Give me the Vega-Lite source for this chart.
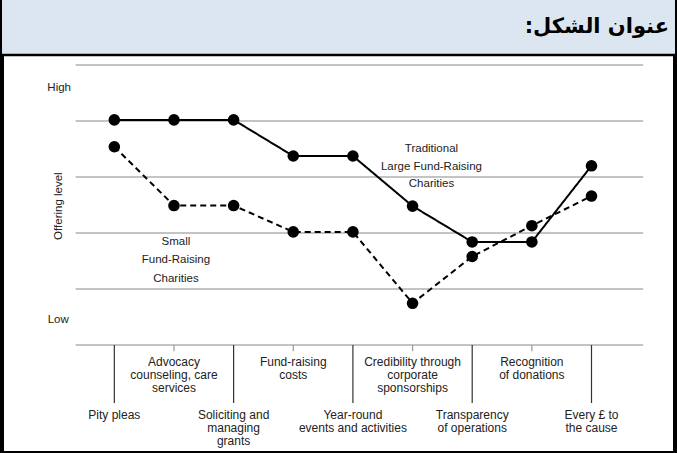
{
  "$schema": "https://vega.github.io/schema/vega-lite/v6.json",
  "autosize": {"type": "fit", "contains": "padding"},
  "width": 677,
  "height": 453,
  "padding": 0,
  "background": "white",
  "config": {"view": {"stroke": "black", "strokeWidth": 4}},
  "data": {"values": [{}]},
  "datasets": {
    "factors": [
      {"i": 1, "factor": "Pity pleas", "tier": "lower"},
      {"i": 2, "factor": "Advocacy\ncounseling, care\nservices", "tier": "upper"},
      {"i": 3, "factor": "Soliciting and\nmanaging\ngrants", "tier": "lower"},
      {"i": 4, "factor": "Fund-raising\ncosts", "tier": "upper"},
      {"i": 5, "factor": "Year-round\nevents and activities", "tier": "lower"},
      {"i": 6, "factor": "Credibility through\ncorporate\nsponsorships", "tier": "upper"},
      {"i": 7, "factor": "Transparency\nof operations", "tier": "lower"},
      {"i": 8, "factor": "Recognition\nof donations", "tier": "upper"},
      {"i": 9, "factor": "Every £ to\nthe cause", "tier": "lower"}
    ],
    "profiles": [
      {"i": 1, "series": "Traditional Large Fund-Raising Charities", "level": 4.02},
      {"i": 2, "series": "Traditional Large Fund-Raising Charities", "level": 4.02},
      {"i": 3, "series": "Traditional Large Fund-Raising Charities", "level": 4.02},
      {"i": 4, "series": "Traditional Large Fund-Raising Charities", "level": 3.375},
      {"i": 5, "series": "Traditional Large Fund-Raising Charities", "level": 3.375},
      {"i": 6, "series": "Traditional Large Fund-Raising Charities", "level": 2.48},
      {"i": 7, "series": "Traditional Large Fund-Raising Charities", "level": 1.84},
      {"i": 8, "series": "Traditional Large Fund-Raising Charities", "level": 1.84},
      {"i": 9, "series": "Traditional Large Fund-Raising Charities", "level": 3.2},
      {"i": 1, "series": "Small Fund-Raising Charities", "level": 3.54},
      {"i": 2, "series": "Small Fund-Raising Charities", "level": 2.49},
      {"i": 3, "series": "Small Fund-Raising Charities", "level": 2.49},
      {"i": 4, "series": "Small Fund-Raising Charities", "level": 2.02},
      {"i": 5, "series": "Small Fund-Raising Charities", "level": 2.02},
      {"i": 6, "series": "Small Fund-Raising Charities", "level": 0.745},
      {"i": 7, "series": "Small Fund-Raising Charities", "level": 1.58},
      {"i": 8, "series": "Small Fund-Raising Charities", "level": 2.13},
      {"i": 9, "series": "Small Fund-Raising Charities", "level": 2.66}
    ],
    "grid": [{"level": 0}, {"level": 1}, {"level": 2}, {"level": 3}, {"level": 4}, {"level": 5}]
  },
  "layer": [
    {
      "mark": {"type": "rect", "fill": "#dce6f1"},
      "encoding": {
        "x": {"datum": -0.8833, "type": "quantitative", "scale": {"type": "linear", "domain": [-0.8833, 10.4], "nice": false, "zero": false}, "axis": null},
        "x2": {"datum": 10.4},
        "y": {"datum": 5.18, "type": "quantitative", "scale": {"type": "linear", "domain": [-1.929, 6.161], "nice": false, "zero": false}, "axis": null},
        "y2": {"datum": 6.161}
      }
    },
    {
      "mark": {"type": "rule", "color": "black", "strokeWidth": 2.5},
      "encoding": {
        "x": {"datum": -0.8833, "type": "quantitative", "scale": {"type": "linear", "domain": [-0.8833, 10.4], "nice": false, "zero": false}, "axis": null},
        "x2": {"datum": 10.4},
        "y": {"datum": 5.18, "type": "quantitative", "scale": {"type": "linear", "domain": [-1.929, 6.161], "nice": false, "zero": false}, "axis": null}
      }
    },
    {
      "mark": {"type": "text", "text": "عنوان الشكل:\u200f", "align": "right", "baseline": "middle", "font": "DejaVu Sans", "fontSize": 21, "fontWeight": "bold", "color": "black"},
      "encoding": {
        "x": {"datum": 10.3, "type": "quantitative", "scale": {"type": "linear", "domain": [-0.8833, 10.4], "nice": false, "zero": false}, "axis": null},
        "y": {"datum": 5.68, "type": "quantitative", "scale": {"type": "linear", "domain": [-1.929, 6.161], "nice": false, "zero": false}, "axis": null}
      }
    },
    {
      "data": {"name": "grid"},
      "mark": {"type": "rule", "color": "#b0b0b0", "strokeWidth": 1.5},
      "encoding": {
        "x": {"datum": 0.35, "type": "quantitative", "scale": {"type": "linear", "domain": [-0.8833, 10.4], "nice": false, "zero": false}, "axis": null},
        "x2": {"datum": 9.867},
        "y": {"field": "level", "type": "quantitative", "scale": {"type": "linear", "domain": [-1.929, 6.161], "nice": false, "zero": false}, "axis": null}
      }
    },
    {
      "data": {"name": "factors"},
      "transform": [{"filter": "datum.tier === 'lower'"}],
      "mark": {"type": "rule", "color": "#333333", "strokeWidth": 1.2},
      "encoding": {
        "x": {"field": "i", "type": "quantitative", "scale": {"type": "linear", "domain": [-0.8833, 10.4], "nice": false, "zero": false}, "axis": null},
        "y": {"datum": 0, "type": "quantitative", "scale": {"type": "linear", "domain": [-1.929, 6.161], "nice": false, "zero": false}, "axis": null},
        "y2": {"datum": -1.036}
      }
    },
    {
      "data": {"name": "factors"},
      "transform": [{"filter": "datum.tier === 'upper'"}],
      "mark": {"type": "rule", "color": "#999999", "strokeWidth": 1.2},
      "encoding": {
        "x": {"field": "i", "type": "quantitative", "scale": {"type": "linear", "domain": [-0.8833, 10.4], "nice": false, "zero": false}, "axis": null},
        "y": {"datum": 0, "type": "quantitative", "scale": {"type": "linear", "domain": [-1.929, 6.161], "nice": false, "zero": false}, "axis": null},
        "y2": {"datum": -0.11}
      }
    },
    {
      "data": {"name": "factors"},
      "transform": [{"filter": "datum.tier === 'upper'"}],
      "mark": {"type": "text", "align": "center", "baseline": "top", "lineBreak": "\n", "lineHeight": 13, "font": "Liberation Sans", "fontSize": 12, "color": "#222222"},
      "encoding": {
        "x": {"field": "i", "type": "quantitative", "scale": {"type": "linear", "domain": [-0.8833, 10.4], "nice": false, "zero": false}, "axis": null},
        "y": {"datum": -0.214, "type": "quantitative", "scale": {"type": "linear", "domain": [-1.929, 6.161], "nice": false, "zero": false}, "axis": null},
        "text": {"field": "factor"}
      }
    },
    {
      "data": {"name": "factors"},
      "transform": [{"filter": "datum.tier === 'lower'"}],
      "mark": {"type": "text", "align": "center", "baseline": "top", "lineBreak": "\n", "lineHeight": 13, "font": "Liberation Sans", "fontSize": 12, "color": "#222222"},
      "encoding": {
        "x": {"field": "i", "type": "quantitative", "scale": {"type": "linear", "domain": [-0.8833, 10.4], "nice": false, "zero": false}, "axis": null},
        "y": {"datum": -1.161, "type": "quantitative", "scale": {"type": "linear", "domain": [-1.929, 6.161], "nice": false, "zero": false}, "axis": null},
        "text": {"field": "factor"}
      }
    },
    {
      "data": {"name": "profiles"},
      "mark": {"type": "line", "color": "black", "strokeWidth": 2},
      "encoding": {
        "x": {"field": "i", "type": "quantitative", "scale": {"type": "linear", "domain": [-0.8833, 10.4], "nice": false, "zero": false}, "axis": null},
        "y": {"field": "level", "type": "quantitative", "scale": {"type": "linear", "domain": [-1.929, 6.161], "nice": false, "zero": false}, "axis": null},
        "strokeDash": {"field": "series", "type": "nominal", "scale": {"domain": ["Traditional Large Fund-Raising Charities", "Small Fund-Raising Charities"], "range": [[1, 0], [6, 4]]}, "legend": null}
      }
    },
    {
      "data": {"name": "profiles"},
      "mark": {"type": "circle", "color": "black", "opacity": 1, "size": 135},
      "encoding": {
        "x": {"field": "i", "type": "quantitative", "scale": {"type": "linear", "domain": [-0.8833, 10.4], "nice": false, "zero": false}, "axis": null},
        "y": {"field": "level", "type": "quantitative", "scale": {"type": "linear", "domain": [-1.929, 6.161], "nice": false, "zero": false}, "axis": null}
      }
    },
    {
      "mark": {"type": "text", "text": ["Traditional", "Large Fund-Raising", "Charities"], "align": "center", "baseline": "middle", "lineHeight": 17.5, "font": "Liberation Sans", "fontSize": 11.5, "color": "#222222"},
      "encoding": {
        "x": {"datum": 6.317, "type": "quantitative", "scale": {"type": "linear", "domain": [-0.8833, 10.4], "nice": false, "zero": false}, "axis": null},
        "y": {"datum": 3.5, "type": "quantitative", "scale": {"type": "linear", "domain": [-1.929, 6.161], "nice": false, "zero": false}, "axis": null}
      }
    },
    {
      "mark": {"type": "text", "text": ["Small", "Fund-Raising", "Charities"], "align": "center", "baseline": "middle", "lineHeight": 18.5, "font": "Liberation Sans", "fontSize": 11.5, "color": "#222222"},
      "encoding": {
        "x": {"datum": 2.033, "type": "quantitative", "scale": {"type": "linear", "domain": [-0.8833, 10.4], "nice": false, "zero": false}, "axis": null},
        "y": {"datum": 1.845, "type": "quantitative", "scale": {"type": "linear", "domain": [-1.929, 6.161], "nice": false, "zero": false}, "axis": null}
      }
    },
    {
      "mark": {"type": "text", "text": "High", "align": "center", "baseline": "middle", "font": "Liberation Sans", "fontSize": 11.5, "color": "#222222"},
      "encoding": {
        "x": {"datum": 0.075, "type": "quantitative", "scale": {"type": "linear", "domain": [-0.8833, 10.4], "nice": false, "zero": false}, "axis": null},
        "y": {"datum": 4.59, "type": "quantitative", "scale": {"type": "linear", "domain": [-1.929, 6.161], "nice": false, "zero": false}, "axis": null}
      }
    },
    {
      "mark": {"type": "text", "text": "Low", "align": "center", "baseline": "middle", "font": "Liberation Sans", "fontSize": 11.5, "color": "#222222"},
      "encoding": {
        "x": {"datum": 0.06, "type": "quantitative", "scale": {"type": "linear", "domain": [-0.8833, 10.4], "nice": false, "zero": false}, "axis": null},
        "y": {"datum": 0.446, "type": "quantitative", "scale": {"type": "linear", "domain": [-1.929, 6.161], "nice": false, "zero": false}, "axis": null}
      }
    },
    {
      "mark": {"type": "text", "text": "Offering level", "angle": 270, "align": "center", "baseline": "middle", "font": "Liberation Sans", "fontSize": 11.5, "color": "#222222"},
      "encoding": {
        "x": {"datum": 0.075, "type": "quantitative", "scale": {"type": "linear", "domain": [-0.8833, 10.4], "nice": false, "zero": false}, "axis": null},
        "y": {"datum": 2.48, "type": "quantitative", "scale": {"type": "linear", "domain": [-1.929, 6.161], "nice": false, "zero": false}, "axis": null}
      }
    }
  ]
}
